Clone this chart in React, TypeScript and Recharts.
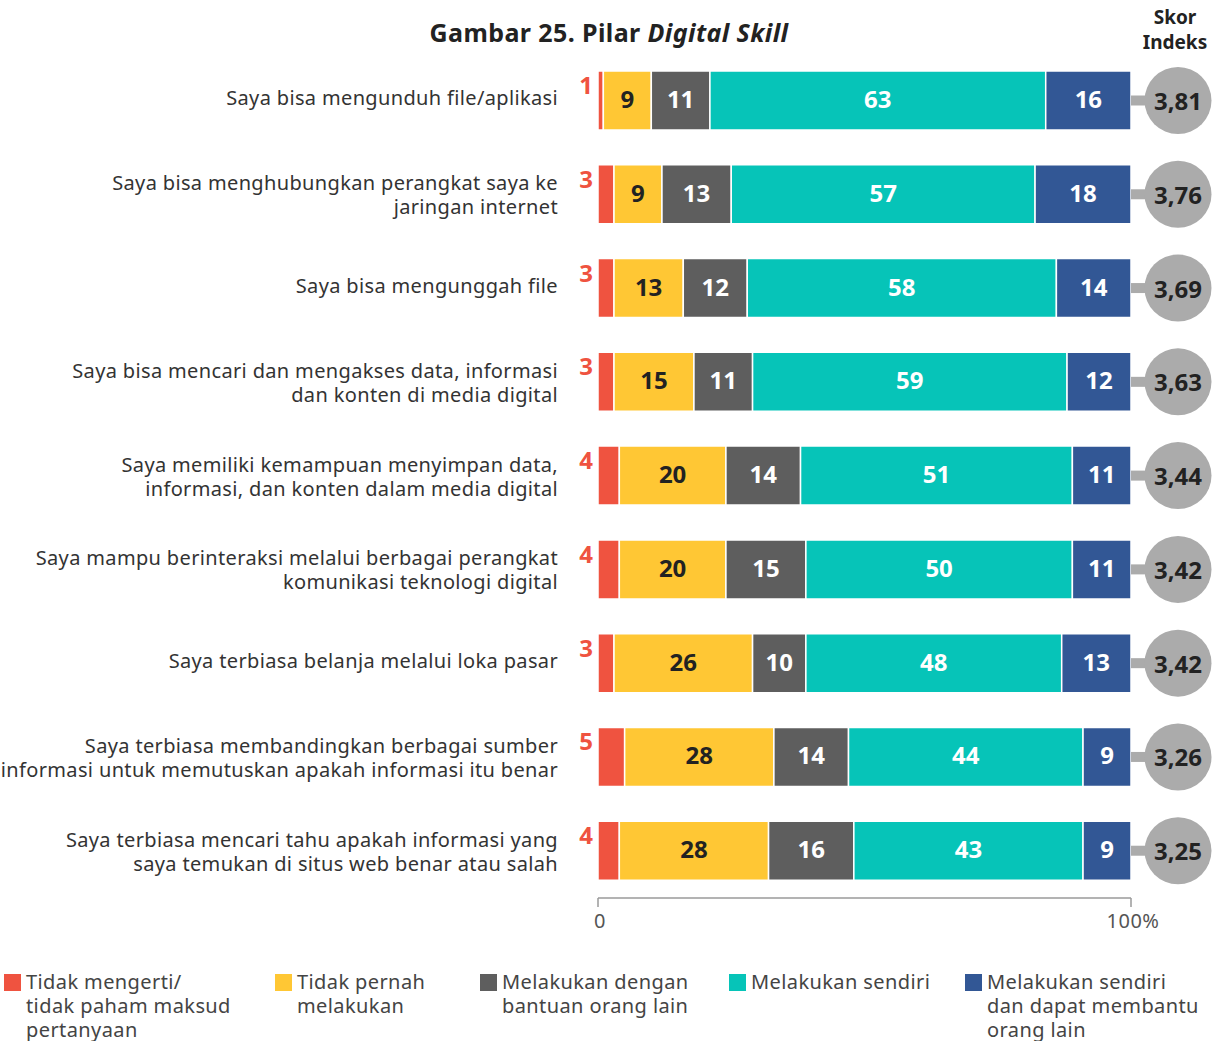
import React from 'react';
import { BarChart, Bar, XAxis, YAxis, LabelList } from 'recharts';

const categories = [
  'Saya bisa mengunduh file/aplikasi',
  'Saya bisa menghubungkan perangkat saya ke\njaringan internet',
  'Saya bisa mengunggah file',
  'Saya bisa mencari dan mengakses data, informasi\ndan konten di media digital',
  'Saya memiliki kemampuan menyimpan data,\ninformasi, dan konten dalam media digital',
  'Saya mampu berinteraksi melalui berbagai perangkat\nkomunikasi teknologi digital',
  'Saya terbiasa belanja melalui loka pasar',
  'Saya terbiasa membandingkan berbagai sumber\ninformasi untuk memutuskan apakah informasi itu benar',
  'Saya terbiasa mencari tahu apakah informasi yang\nsaya temukan di situs web benar atau salah',
];
const tidakMengerti = [1, 3, 3, 3, 4, 4, 3, 5, 4];
const tidakPernah = [9, 9, 13, 15, 20, 20, 26, 28, 28];
const denganBantuan = [11, 13, 12, 11, 14, 15, 10, 14, 16];
const sendiri = [63, 57, 58, 59, 51, 50, 48, 44, 43];
const membantu = [16, 18, 14, 12, 11, 11, 13, 9, 9];
const skor = [3.81, 3.76, 3.69, 3.63, 3.44, 3.42, 3.42, 3.26, 3.25];
const xTicks = [0, 100];

const seriesNames = [
  'Tidak mengerti/\ntidak paham maksud\npertanyaan',
  'Tidak pernah\nmelakukan',
  'Melakukan dengan\nbantuan orang lain',
  'Melakukan sendiri',
  'Melakukan sendiri\ndan dapat membantu\norang lain',
];

const COLORS = ['#EF5340', '#FFC734', '#5E5E5E', '#06C4B8', '#325795'];
const FONT = '"Noto Sans", sans-serif';

const data = categories.map((label, i) => ({
  label,
  a: tidakMengerti[i],
  b: tidakPernah[i],
  c: denganBantuan[i],
  d: sendiri[i],
  e: membantu[i],
  skor: skor[i],
}));

const CategoryTick = (props: any) => {
  const { x, y, payload } = props;
  const lines: string[] = String(payload.value).split('\n');
  const start = lines.length === 1 ? -3 : -12;
  return (
    <text
      x={x - 32}
      y={y}
      textAnchor="end"
      fill="#333"
      fontSize={20}
      letterSpacing={0.35}
      fontFamily={FONT}
    >
      {lines.map((l, i) => (
        <tspan key={i} x={x - 32} y={y + start + i * 24} dominantBaseline="central">
          {l}
        </tspan>
      ))}
    </text>
  );
};

const XTick = (props: any) => {
  const { x, y, payload } = props;
  return (
    <text
      x={x + 2}
      y={y + 11}
      textAnchor="middle"
      dominantBaseline="central"
      fill="#555"
      fontSize={20}
      letterSpacing={0.5}
      fontFamily={FONT}
    >
      {payload.value === 100 ? '100%' : String(payload.value)}
    </text>
  );
};

const inner = (color: string) => (props: any) => {
  const { x, y, width, height, value } = props;
  return (
    <text
      x={x + width / 2}
      y={y + height / 2 - 2}
      textAnchor="middle"
      dominantBaseline="central"
      fill={color}
      fontSize={24}
      fontWeight={700}
      fontFamily={FONT}
    >
      {value}
    </text>
  );
};

const outerRed = (props: any) => {
  const { x, y, height, value } = props;
  return (
    <text
      x={x - 5}
      y={y + height / 2 - 16}
      textAnchor="end"
      dominantBaseline="central"
      fill={COLORS[0]}
      fontSize={24}
      fontWeight={700}
      fontFamily={FONT}
    >
      {value}
    </text>
  );
};

const scoreBubble = (props: any) => {
  const { x, y, width, height, value } = props;
  const end = x + width;
  const cy = y + height / 2;
  const cx = end + 47;
  return (
    <g>
      <rect x={end} y={cy - 5} width={20} height={10} fill="#ABABAB" />
      <circle cx={cx} cy={cy} r={33.5} fill="#ABABAB" />
      <text
        x={cx}
        y={cy}
        textAnchor="middle"
        dominantBaseline="central"
        fill="#222"
        fontSize={24}
        fontWeight={700}
        fontFamily={FONT}
      >
        {Number(value).toFixed(2).replace('.', ',')}
      </text>
    </g>
  );
};

const legendX = [4, 275, 480, 729, 965];

export default function App() {
  return (
    <div style={{ position: 'relative', width: 1217, height: 1041, overflow: 'hidden', background: '#fff', fontFamily: FONT }}>
      <style>{'body{margin:0;overflow:hidden}'}</style>
      <div
        style={{
          position: 'absolute',
          left: 309,
          width: 600,
          top: 17,
          textAlign: 'center',
          fontSize: 25,
          fontWeight: 700,
          letterSpacing: 0.4,
          color: '#222',
          lineHeight: '30px',
        }}
      >
        Gambar 25. Pilar <i>Digital Skill</i>
      </div>
      <div
        style={{
          position: 'absolute',
          left: 1125,
          width: 100,
          top: 5,
          textAlign: 'center',
          fontSize: 19,
          fontWeight: 700,
          color: '#222',
          lineHeight: '25px',
        }}
      >
        Skor
        <br />
        Indeks
      </div>
      <div style={{ position: 'absolute', left: 0, top: 0 }}>
        <BarChart
          width={1217}
          height={960}
          data={data}
          layout="vertical"
          margin={{ top: 54, right: 86, bottom: 32, left: 0 }}
          barSize={59}
        >
          <XAxis
            type="number"
            domain={[0, 100]}
            ticks={xTicks}
            height={30}
            tickSize={9}
            axisLine={{ stroke: '#9A9A9A', strokeWidth: 1.5 }}
            tickLine={{ stroke: '#9A9A9A', strokeWidth: 1.5 }}
            tick={<XTick />}
          />
          <YAxis
            type="category"
            dataKey="label"
            width={598}
            axisLine={false}
            tickLine={false}
            tick={<CategoryTick />}
            interval={0}
          />
          <Bar dataKey="a" stackId="s" fill={COLORS[0]} stroke="#fff" strokeWidth={1.5} isAnimationActive={false}>
            <LabelList dataKey="a" content={outerRed} />
          </Bar>
          <Bar dataKey="b" stackId="s" fill={COLORS[1]} stroke="#fff" strokeWidth={1.5} isAnimationActive={false}>
            <LabelList dataKey="b" content={inner('#222')} />
          </Bar>
          <Bar dataKey="c" stackId="s" fill={COLORS[2]} stroke="#fff" strokeWidth={1.5} isAnimationActive={false}>
            <LabelList dataKey="c" content={inner('#fff')} />
          </Bar>
          <Bar dataKey="d" stackId="s" fill={COLORS[3]} stroke="#fff" strokeWidth={1.5} isAnimationActive={false}>
            <LabelList dataKey="d" content={inner('#fff')} />
          </Bar>
          <Bar dataKey="e" stackId="s" fill={COLORS[4]} stroke="#fff" strokeWidth={1.5} isAnimationActive={false}>
            <LabelList dataKey="e" content={inner('#fff')} />
            <LabelList dataKey="skor" content={scoreBubble} />
          </Bar>
        </BarChart>
      </div>
      {seriesNames.map((name, i) => (
        <div
          key={name}
          style={{ position: 'absolute', left: legendX[i], top: 970, display: 'flex', alignItems: 'flex-start' }}
        >
          <div style={{ width: 17, height: 17, background: COLORS[i], marginTop: 4, marginRight: 5 }} />
          <div style={{ fontSize: 20, letterSpacing: 0.4, lineHeight: '24px', color: '#444', whiteSpace: 'pre' }}>{name}</div>
        </div>
      ))}
    </div>
  );
}
